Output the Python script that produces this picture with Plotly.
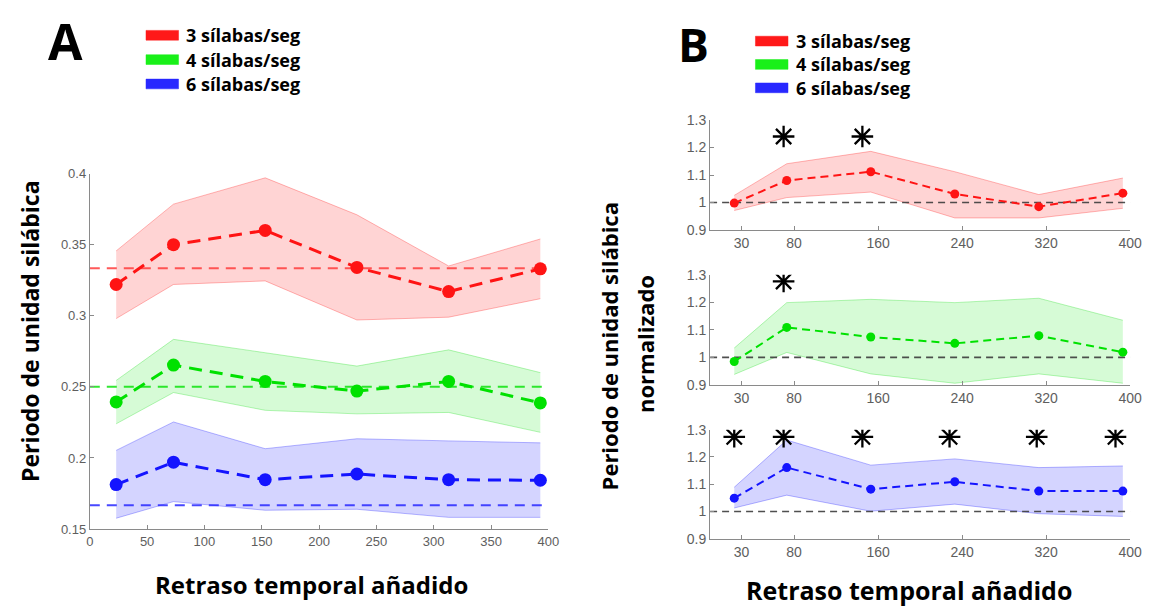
import plotly.graph_objects as go

W, H = 1156, 613

# ---------------- data ----------------
delays = [23, 73, 153, 233, 313, 393]
rates = [3, 4, 6]
labels = ["3 sílabas/seg", "4 sílabas/seg", "6 sílabas/seg"]

# Panel A: syllable period (s)
a_mean = {
    3: [0.322, 0.350, 0.360, 0.334, 0.317, 0.333],
    4: [0.2394, 0.2653, 0.2538, 0.247, 0.2538, 0.2387],
    6: [0.1813, 0.197, 0.1847, 0.1887, 0.1847, 0.1843],
}
a_upper = {
    3: [0.3456, 0.3785, 0.397, 0.371, 0.335, 0.354],
    4: [0.2545, 0.2834, 0.274, 0.2646, 0.276, 0.260],
    6: [0.2053, 0.2253, 0.2065, 0.2135, 0.212, 0.2106],
}
a_lower = {
    3: [0.298, 0.322, 0.3245, 0.297, 0.299, 0.312],
    4: [0.224, 0.246, 0.2335, 0.231, 0.232, 0.218],
    6: [0.1576, 0.1693, 0.1632, 0.1639, 0.1582, 0.1582],
}

# Panel B: normalized period
b_mean = {
    3: [0.998, 1.080, 1.112, 1.031, 0.985, 1.034],
    4: [0.985, 1.109, 1.074, 1.051, 1.079, 1.019],
    6: [1.049, 1.161, 1.082, 1.109, 1.075, 1.075],
}
b_upper = {
    3: [1.026, 1.141, 1.186, 1.112, 1.029, 1.089],
    4: [1.034, 1.199, 1.211, 1.199, 1.215, 1.135],
    6: [1.089, 1.262, 1.170, 1.193, 1.161, 1.167],
}
b_lower = {
    3: [0.971, 1.018, 1.038, 0.944, 0.944, 0.979],
    4: [0.938, 1.018, 0.940, 0.906, 0.940, 0.906],
    6: [1.013, 1.060, 1.001, 1.027, 0.992, 0.982],
}
star_x = {3: [70, 145], 4: [70], 6: [23, 70, 145, 228, 311, 386]}
star_y = {3: 1.24, 4: 1.276, 6: 1.274}

a_xticks = [0, 50, 100, 150, 200, 250, 300, 350, 400]
a_yticks = [0.15, 0.2, 0.25, 0.3, 0.35, 0.4]
a_yticklabels = ["0.15", "0.2", "0.25", "0.3", "0.35", "0.4"]
b_xticks = [30, 80, 160, 240, 320, 400]
b_yticks = [0.9, 1.0, 1.1, 1.2, 1.3]
b_yticklabels = ["0.9", "1", "1.1", "1.2", "1.3"]

# ---------------- styles ----------------
line_col = {3: "rgb(255,20,20)", 4: "rgb(0,225,0)", 6: "rgb(20,20,255)"}
ref_col = {3: "rgba(255,60,60,0.85)", 4: "rgba(0,225,0,0.8)", 6: "rgba(40,40,255,0.85)"}
fill_col = {3: "rgba(255,0,0,0.17)", 4: "rgba(0,230,0,0.16)", 6: "rgba(0,0,255,0.17)"}
edge_col = {3: "rgba(255,0,0,0.28)", 4: "rgba(0,220,0,0.28)", 6: "rgba(0,0,255,0.28)"}
legend_col = {3: "rgb(255,25,25)", 4: "rgb(25,240,25)", 6: "rgb(40,40,255)"}

TITLE_FONT = "Open Sans"
TICK_FONT = dict(family="Liberation Sans, Arial", size=13, color="#5e5e5e")
AX_COL = "#8a8a8a"


def px_x(p):
    return p / W


def px_y(p):
    return 1 - p / H


fig = go.Figure()

# ---------------- Panel A ----------------
for r in rates:
    fig.add_trace(go.Scatter(x=delays, y=a_upper[r], mode="lines",
                             line=dict(color=edge_col[r], width=1),
                             xaxis="x", yaxis="y", showlegend=False, hoverinfo="skip"))
    fig.add_trace(go.Scatter(x=delays, y=a_lower[r], mode="lines", fill="tonexty",
                             fillcolor=fill_col[r],
                             line=dict(color=edge_col[r], width=1),
                             xaxis="x", yaxis="y", showlegend=False, hoverinfo="skip"))
for r in rates:
    fig.add_trace(go.Scatter(x=[0, 400], y=[1 / r, 1 / r], mode="lines",
                             line=dict(color=ref_col[r], width=2, dash="10px,7px"),
                             xaxis="x", yaxis="y", showlegend=False))
for r in rates:
    fig.add_trace(go.Scatter(x=delays, y=a_mean[r], mode="lines+markers",
                             line=dict(color=line_col[r], width=3, dash="13px,8px"),
                             marker=dict(color=line_col[r], size=13),
                             xaxis="x", yaxis="y", showlegend=False, name=labels[rates.index(r)]))

# ---------------- Panel B ----------------
b_axes = {3: ("x2", "y2"), 4: ("x3", "y3"), 6: ("x4", "y4")}
for r in rates:
    xa, ya = b_axes[r]
    fig.add_trace(go.Scatter(x=delays, y=b_upper[r], mode="lines",
                             line=dict(color=edge_col[r], width=1),
                             xaxis=xa, yaxis=ya, showlegend=False, hoverinfo="skip"))
    fig.add_trace(go.Scatter(x=delays, y=b_lower[r], mode="lines", fill="tonexty",
                             fillcolor=fill_col[r],
                             line=dict(color=edge_col[r], width=1),
                             xaxis=xa, yaxis=ya, showlegend=False, hoverinfo="skip"))
    fig.add_trace(go.Scatter(x=[0, 400], y=[1, 1], mode="lines",
                             line=dict(color="rgba(60,60,60,0.9)", width=1.6, dash="7px,5px"),
                             xaxis=xa, yaxis=ya, showlegend=False))
    fig.add_trace(go.Scatter(x=delays, y=b_mean[r], mode="lines+markers",
                             line=dict(color=line_col[r], width=2, dash="8px,5px"),
                             marker=dict(color=line_col[r], size=9),
                             xaxis=xa, yaxis=ya, showlegend=False))
    fig.add_trace(go.Scatter(x=star_x[r], y=[star_y[r]] * len(star_x[r]), mode="markers",
                             marker=dict(symbol="asterisk-open", size=18, color="black",
                                         line=dict(color="black", width=2.3)),
                             xaxis=xa, yaxis=ya, showlegend=False))

# ---------------- axes ----------------
common = dict(showgrid=False, zeroline=False, showline=True, linecolor=AX_COL, linewidth=1,
              ticks="inside", ticklen=4, tickcolor=AX_COL, tickfont=TICK_FONT, mirror=False)

layout = dict(
    width=W, height=H, margin=dict(l=0, r=0, t=0, b=0),
    paper_bgcolor="white", plot_bgcolor="white", showlegend=False,
    xaxis=dict(domain=[px_x(87), px_x(552)], range=[0, 400], tickvals=a_xticks,
               anchor="y", **common),
    yaxis=dict(domain=[px_y(535), px_y(170)], range=[0.15, 0.4], tickvals=a_yticks,
               ticktext=a_yticklabels, anchor="x", **common),
)
b_ydom = {3: (228, 115), 4: (387, 274), 6: (545, 433)}
for i, r in enumerate(rates):
    n = i + 2
    bfont = dict(TICK_FONT, size=14)
    c = dict(common, tickfont=bfont)
    layout[f"xaxis{n}"] = dict(domain=[px_x(716), px_x(1142)], range=[0, 400],
                               tickvals=b_xticks, anchor=f"y{n}", **c)
    layout[f"yaxis{n}"] = dict(domain=[px_y(b_ydom[r][0]), px_y(b_ydom[r][1])],
                               range=[0.9, 1.3], tickvals=b_yticks, ticktext=b_yticklabels,
                               anchor=f"x{n}", **c)
fig.update_layout(**layout)

# ---------------- text & legends ----------------
ann = []
shapes = []


def text(x, y, s, size, angle=0, xanchor="center"):
    ann.append(dict(x=px_x(x), y=px_y(y), xref="paper", yref="paper", text=s,
                    showarrow=False, textangle=angle, xanchor=xanchor, yanchor="middle",
                    font=dict(family=TITLE_FONT, size=size, color="black")))


text(62, 34, "<b>A</b>", 50)
text(699, 37, "<b>B</b>", 46)
text(312, 592, "<b>Retraso temporal añadido</b>", 24)
text(27, 332, "<b>Periodo de unidad silábica</b>", 23, angle=-90)
text(918, 598, "<b>Retraso temporal añadido</b>", 25)
text(613, 348, "<b>Periodo de unidad silábica</b>", 22, angle=-90)
text(650, 345, "<b>normalizado</b>", 22, angle=-90)

leg_a_y = [28, 53, 78]
leg_b_y = [34, 58, 82]
for i, r in enumerate(rates):
    shapes.append(dict(type="rect", xref="paper", yref="paper",
                       x0=px_x(144), x1=px_x(177), y0=px_y(leg_a_y[i] + 5), y1=px_y(leg_a_y[i] - 5),
                       fillcolor=legend_col[r], line=dict(color=legend_col[r], width=0.5)))
    text(183, leg_a_y[i], f"<b>{labels[i]}</b>", 18, xanchor="left")
    shapes.append(dict(type="rect", xref="paper", yref="paper",
                       x0=px_x(762), x1=px_x(795), y0=px_y(leg_b_y[i] + 5), y1=px_y(leg_b_y[i] - 5),
                       fillcolor=legend_col[r], line=dict(color=legend_col[r], width=0.5)))
    text(801, leg_b_y[i], f"<b>{labels[i]}</b>", 18, xanchor="left")

fig.update_layout(annotations=ann, shapes=shapes)
fig.write_html(
    "out.html",
    config={"displayModeBar": False},
    post_script="document.body.style.margin='0px';document.body.style.padding='0px';"
                "document.documentElement.style.overflow='hidden';",
)
